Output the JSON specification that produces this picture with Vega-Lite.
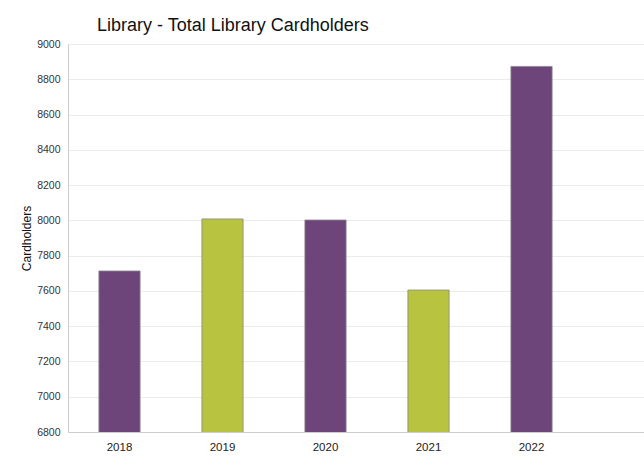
{
  "$schema": "https://vega.github.io/schema/vega-lite/v6.json",
  "autosize": {"type": "none"},
  "width": 576,
  "height": 388,
  "padding": {"left": 68, "top": 44, "right": 0, "bottom": 43},
  "background": "white",
  "title": {
    "text": "Library - Total Library Cardholders",
    "anchor": "start",
    "frame": "group",
    "dx": 29,
    "offset": 4,
    "font": "Liberation Sans",
    "fontSize": 18,
    "fontWeight": "normal",
    "color": "#111111"
  },
  "data": {
    "values": [
      {"year": "2018", "cardholders": 7713, "group": "a"},
      {"year": "2019", "cardholders": 8008, "group": "b"},
      {"year": "2020", "cardholders": 8002, "group": "a"},
      {"year": "2021", "cardholders": 7605, "group": "b"},
      {"year": "2022", "cardholders": 8873, "group": "a"}
    ]
  },
  "mark": {"type": "bar", "stroke": "#888888", "strokeWidth": 0.8, "clip": true},
  "encoding": {
    "x": {
      "field": "year",
      "type": "ordinal",
      "scale": {"paddingInner": 0.6, "paddingOuter": 0.596, "align": 0.2516},
      "axis": {
        "title": null,
        "labelAngle": 0,
        "labelFont": "Liberation Sans",
        "labelFontSize": 11.5,
        "labelColor": "#222222",
        "labelPadding": 9,
        "ticks": false,
        "domainColor": "#cccccc",
        "grid": false
      }
    },
    "y": {
      "field": "cardholders",
      "type": "quantitative",
      "scale": {"domain": [6800, 9000], "nice": false, "zero": false},
      "axis": {
        "title": "Cardholders",
        "titleFont": "Liberation Sans",
        "titleFontSize": 12,
        "titleFontWeight": "normal",
        "titleColor": "#111111",
        "titlePadding": 3,
        "values": [6800, 7000, 7200, 7400, 7600, 7800, 8000, 8200, 8400, 8600, 8800, 9000],
        "format": "d",
        "labelFont": "Liberation Sans",
        "labelFontSize": 10.5,
        "labelColor": "#333333",
        "labelPadding": 8,
        "ticks": false,
        "domainColor": "#cccccc",
        "gridColor": "#ebebeb"
      }
    },
    "color": {
      "field": "group",
      "type": "nominal",
      "scale": {"domain": ["a", "b"], "range": ["#6e457b", "#b8c33f"]},
      "legend": null
    }
  },
  "config": {"view": {"stroke": null}}
}
